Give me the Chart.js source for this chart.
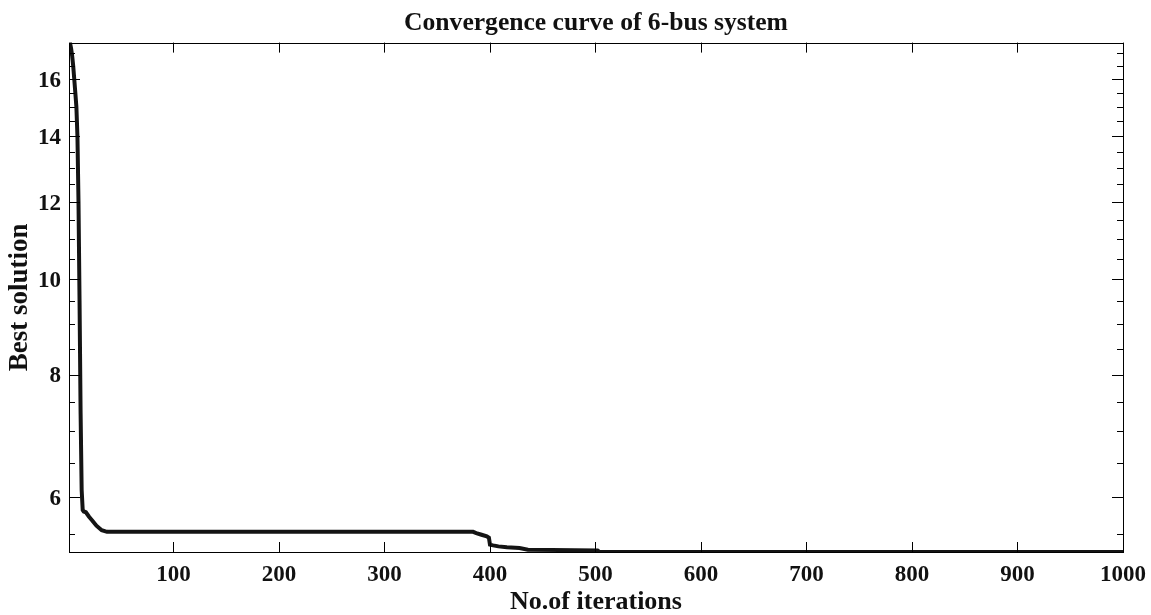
<!DOCTYPE html>
<html>
<head>
<meta charset="utf-8">
<script src="https://cdn.jsdelivr.net/npm/chart.js@4.4.0/dist/chart.umd.min.js"></script>
<style>
  html, body { margin: 0; padding: 0; background: #fff; }
</style>
</head>
<body>
<canvas id="myChart" width="1151" height="615"></canvas>
<script>
// values
const iterations = [1, 2, 3, 4, 5, 6, 7, 8, 9, 10, 11, 12, 13, 14, 15, 17, 18, 20, 23, 27, 32, 37,
  384, 387, 392, 397, 399, 400, 403, 408, 416, 428, 436, 502, 504, 1000];
const bestSolution = [17.44, 17.42, 17.2, 16.9, 16.5, 16.0, 15.5, 15.0, 14.0, 12.0, 9.5, 7.3, 6.1, 5.82, 5.80, 5.79, 5.77, 5.73, 5.68, 5.61, 5.55, 5.53,
  5.53, 5.514, 5.492, 5.471, 5.454, 5.366, 5.357, 5.344, 5.332, 5.324, 5.303, 5.294, 5.274, 5.274];

const xTickValues = [100, 200, 300, 400, 500, 600, 700, 800, 900, 1000];
const yMajorTicks = [6, 8, 10, 12, 14, 16];
const yMinorTicks = [5.5, 6.5, 7, 7.5, 8.5, 9, 9.5, 10.5, 11, 11.5, 12.5, 13, 13.5, 14.5, 15, 15.5, 16.5, 17];
const yMin = 5.274;
const yMax = 17.44;

const FONT = "'Liberation Serif', 'Times New Roman', serif";
const INK = '#111';

// matlab style box with inward ticks on all four sides
const boxTicks = {
  id: 'boxTicks',
  afterDraw(chart) {
    const {ctx, chartArea: a, scales: {x, y}} = chart;
    ctx.save();
    ctx.strokeStyle = '#000';
    ctx.lineWidth = 1;
    ctx.beginPath();
    xTickValues.forEach(v => {
      const px = Math.round(x.getPixelForValue(v)) + 0.5;
      ctx.moveTo(px, a.bottom); ctx.lineTo(px, a.bottom - 10);
      ctx.moveTo(px, a.top); ctx.lineTo(px, a.top + 10);
    });
    const yTick = (v, len) => {
      const py = Math.round(y.getPixelForValue(v)) + 0.5;
      ctx.moveTo(a.left, py); ctx.lineTo(a.left + len, py);
      ctx.moveTo(a.right, py); ctx.lineTo(a.right - len, py);
    };
    yMajorTicks.forEach(v => yTick(v, 11));
    yMinorTicks.forEach(v => yTick(v, 6));
    ctx.stroke();
    ctx.strokeRect(Math.round(a.left) + 0.5, Math.round(a.top) + 0.5,
      Math.round(a.right - a.left), Math.round(a.bottom - a.top));
    ctx.restore();
  }
};

const ctx = document.getElementById('myChart');

new Chart(ctx, {
  type: 'line',
  data: {
    datasets: [{
      data: iterations.map((it, i) => ({x: it, y: bestSolution[i]})),
      borderColor: '#141414',
      borderWidth: 4,
      pointRadius: 0,
      tension: 0,
      fill: false,
      clip: 0
    }]
  },
  plugins: [boxTicks],
  options: {
    responsive: false,
    animation: false,
    layout: { padding: { left: 0, right: 28, top: 0, bottom: 0 } },
    plugins: {
      legend: { display: false },
      tooltip: { enabled: false },
      title: {
        display: true,
        text: 'Convergence curve of 6-bus system',
        fullSize: false,
        color: INK,
        font: { family: FONT, size: 25.6, weight: 'bold', lineHeight: 1 },
        padding: { top: 11, bottom: 6 }
      }
    },
    scales: {
      x: {
        type: 'linear',
        min: 1,
        max: 1000,
        afterBuildTicks: s => { s.ticks = xTickValues.map(v => ({value: v})); },
        afterFit: s => { s.height = 63; s.paddingLeft = 0; s.paddingRight = 0; },
        grid: { display: false, drawTicks: false },
        border: { display: false },
        ticks: {
          color: INK,
          autoSkip: false,
          maxRotation: 0,
          padding: 11.6,
          font: { family: FONT, size: 23, weight: 'bold', lineHeight: 1 },
          callback: v => String(v)
        },
        title: {
          display: true,
          text: 'No.of iterations',
          color: INK,
          padding: 0,
          font: { family: FONT, size: 26, weight: 'bold', lineHeight: 1 }
        }
      },
      y: {
        type: 'logarithmic',
        min: yMin,
        max: yMax,
        afterBuildTicks: s => {
          s.ticks = yMajorTicks.concat(yMinorTicks).sort((p, q) => p - q).map(v => ({value: v}));
        },
        afterFit: s => { s.width = 69; s.paddingTop = 0; s.paddingBottom = 0; },
        grid: { display: false, drawTicks: false },
        border: { display: false },
        ticks: {
          color: INK,
          autoSkip: false,
          padding: 8,
          labelOffset: 2,
          font: { family: FONT, size: 23, weight: 'bold', lineHeight: 1 },
          callback: v => yMajorTicks.includes(v) ? String(v) : ''
        },
        title: {
          display: true,
          text: 'Best solution',
          color: INK,
          padding: { top: 7, bottom: 0 },
          font: { family: FONT, size: 27, weight: 'bold', lineHeight: 1 }
        }
      }
    }
  }
});
</script>
</body>
</html>
